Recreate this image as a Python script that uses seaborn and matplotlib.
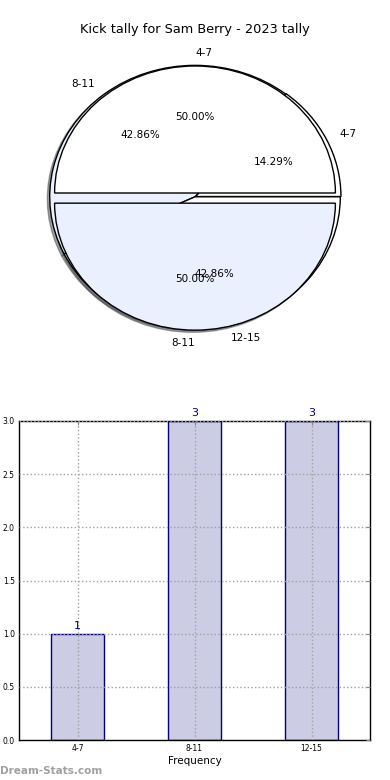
import matplotlib
matplotlib.use("Agg")
import matplotlib.pyplot as plt
import seaborn as sns
import pandas as pd

# ---- data ----
title = "Kick tally for Sam Berry - 2023 tally"
pie_a_labels = ["4-7", "8-11"]
pie_a_values = [1, 1]
pie_b_labels = ["4-7", "8-11", "12-15"]
pie_b_values = [1, 3, 3]
bar_categories = ["4-7", "8-11", "12-15"]
bar_values = [1, 3, 3]
x_label = "Frequency"
watermark = "Dream-Stats.com"

sns.set_style("white")
plt.rcParams['font.family'] = ['DejaVu Sans']
for k in ["text.color", "axes.labelcolor", "xtick.color", "ytick.color"]:
    plt.rcParams[k] = "black"

fig = plt.figure(figsize=(3.9, 7.8), dpi=100)

W, H = 390.0, 780.0
def box(l, t, r, b):
    return [l / W, 1 - b / H, (r - l) / W, (b - t) / H]

pie_colors = ["white", "#eaf0fd"]
wp = dict(edgecolor="black", linewidth=1)
tp = dict(fontsize=7.5, color="black")

axp = fig.add_axes(box(19.5, 34.25, 370.5, 351.75))
# second pie (3 wedges) drawn first, first pie on top
axp.pie(pie_b_values, labels=pie_b_labels, colors=pie_colors, autopct="%1.2f%%",
        explode=[0.005, 0, 0], radius=1.035, center=(0, -0.03),
        shadow=dict(ox=-0.012, oy=-0.012),
        wedgeprops=wp, textprops=tp)
wa, la, pa = axp.pie(pie_a_values, labels=pie_a_labels, colors=pie_colors,
                     autopct="%1.2f%%", explode=[0, 0.08], radius=1.0,
                     center=(0, 0), shadow=dict(ox=-0.012, oy=-0.012),
                     wedgeprops=wp, textprops=tp)
la[0].set_ha("left")
la[1].set_ha("right")
axp.set_aspect("auto")
axp.set_xlim(-1.25, 1.25)
axp.set_ylim(-1.25, 1.25)
axp.axis("off")
fig.text(0.5, 1 - 30 / H, title, ha="center", va="center", fontsize=9.3,
         color="black")

# ---- bar chart ----
axb = fig.add_axes(box(19, 421, 370, 740))
df = pd.DataFrame({"cat": bar_categories, "val": bar_values})
sns.barplot(data=df, x="cat", y="val", order=bar_categories, color="#ccccE5",
            saturation=1, width=0.45, edgecolor="#000080", linewidth=1, ax=axb)
axb.set_xlim(-0.5, len(bar_categories) - 0.5)
axb.set_ylim(0, 3)
yt = [0, 0.5, 1.0, 1.5, 2.0, 2.5, 3.0]
axb.set_yticks(yt)
axb.set_yticklabels([f"{v:.1f}" for v in yt])
axb.set_axisbelow(False)
axb.grid(True, linestyle=":", color="#a0a0a0", linewidth=1)
axb.tick_params(direction="in", top=True, right=True, length=3, labelsize=5.5,
                color="#888888", labelcolor="black", pad=3)
for s in axb.spines.values():
    s.set_color("black")
    s.set_linewidth(1)
axb.set_xlabel(x_label, fontsize=7.5, labelpad=2, color="black")
axb.set_ylabel("")
for i, v in enumerate(bar_values):
    axb.annotate(str(v), (i, v), xytext=(0, 2), textcoords="offset points",
                 ha="center", va="bottom", fontsize=8, color="#000080",
                 annotation_clip=False)

fig.text(0 / W, 1 - 771 / H, watermark, ha="left", va="center", fontsize=7.5,
         color="#a0a0a0", fontweight="bold")

fig.savefig("out.png", dpi=100)
